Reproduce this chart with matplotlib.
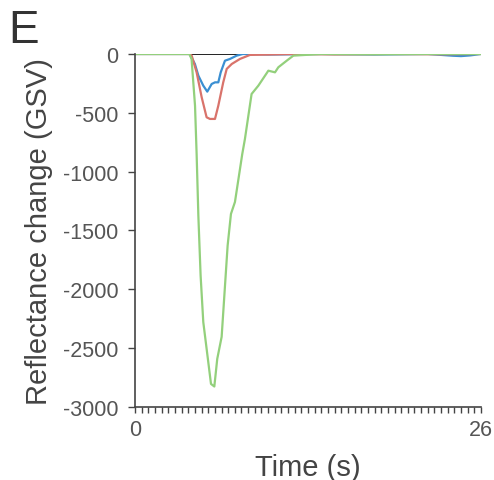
# Reflectance change over time, panel E
import matplotlib.pyplot as plt
from matplotlib.ticker import MultipleLocator

plt.rcParams['font.family'] = ['Liberation Sans', 'DejaVu Sans']
plt.rcParams['axes.unicode_minus'] = False

# zero baseline (black)
t_base = [0, 26]
v_base = [0, 0]

# blue trace
t_blue = [0, 2, 4.1, 4.5, 4.76, 5.13, 5.43, 5.76, 6.01, 6.26, 6.44, 6.76, 7.14, 7.64, 8.1,
          10, 14, 18, 22, 23.9, 24.5, 25.2, 26]
v_blue = [0, 0, 0, -85, -184, -269, -320, -255, -241, -241, -156, -57, -42, -14, 0,
          -5, 0, -5, 0, -15, -18, -12, 0]

# red trace
t_red = [0, 2, 4.1, 4.26, 4.63, 5.01, 5.38, 5.63, 6.01, 6.26, 6.63, 6.89, 7.27, 7.89, 8.64,
         10, 12, 15, 19, 23, 26]
v_red = [0, 0, 0, -14, -156, -368, -538, -552, -552, -439, -241, -127, -85, -42, -8,
         -5, 0, -4, 0, -3, 0]

# green trace
t_green = [0, 2, 4.08, 4.25, 4.51, 4.63, 4.76, 4.93, 5.13, 5.71, 5.96, 6.18, 6.51, 6.96, 7.21,
           7.51, 8.06, 8.26, 8.76, 9.27, 10.02, 10.52, 10.77, 11.4, 11.9, 14, 18, 22, 26]
v_green = [0, 0, 0, -42, -440, -850, -1374, -1884, -2278, -2804, -2826, -2591, -2404, -1628, -1359,
           -1258, -850, -722, -340, -269, -142, -156, -113, -57, -14, 0, -3, 0, 0]

fig = plt.figure(figsize=(4.94, 4.81), dpi=100)
ax = fig.add_axes([0.2733, 0.1518, 0.7004, 0.7339])

ax.plot(t_base, v_base, color='#222222', lw=1.4)
ax.plot(t_blue, v_blue, color='#3b8fd2', lw=1.6)
ax.plot(t_red, v_red, color='#d9736b', lw=1.6)
ax.plot(t_green, v_green, color='#93d07c', lw=1.6)

ax.set_xlim(0, 26)
ax.set_ylim(-3000, 0)
ax.set_xticks([0, 26])
ax.xaxis.set_minor_locator(MultipleLocator(0.5))
ax.set_yticks([0, -500, -1000, -1500, -2000, -2500, -3000])

for s in ['top', 'right']:
    ax.spines[s].set_visible(False)
for s in ['left', 'bottom']:
    ax.spines[s].set_color('#444444')
    ax.spines[s].set_linewidth(1.2)

ax.tick_params(axis='both', which='both', direction='out', colors='#444444',
               labelcolor='#555555', labelsize=15.5)
ax.tick_params(axis='x', which='both', length=4, width=1, pad=5)
ax.tick_params(axis='y', which='major', length=5, width=1, pad=7)

ax.set_xlabel('Time (s)', fontsize=21, color='#444444', labelpad=9)
ax.set_ylabel('Reflectance change (GSV)', fontsize=21, color='#444444', labelpad=7)

fig.text(0.016, 0.91, 'E', fontsize=33, color='#333333')

fig.savefig('out.png', dpi=100)
